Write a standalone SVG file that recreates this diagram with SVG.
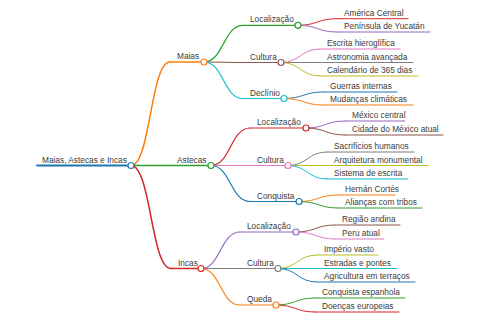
<svg xmlns="http://www.w3.org/2000/svg" width="480" height="320" viewBox="0 0 480 320">
<style>
.t{font-family:"Liberation Sans",Arial,sans-serif;font-size:8.3px;fill:#3b3b3b}
path,line{fill:none;stroke-linecap:round}
circle{fill:#fff;stroke-width:1.2}
.w0{stroke-width:2}.w1{stroke-width:1.5}.w2{stroke-width:1.2}.w3{stroke-width:1}
.c0{stroke:#1f77b4}.c1{stroke:#ff7f0e}.c2{stroke:#2ca02c}.c3{stroke:#d62728}.c4{stroke:#9467bd}
.c5{stroke:#8c564b}.c6{stroke:#e377c2}.c7{stroke:#7f7f7f}.c8{stroke:#bcbd22}.c9{stroke:#17becf}
</style>
<rect width="480" height="320" fill="#fff"/>
<g id="connectors">
<path class="w1 c1" d="M131,165.5C150.5,165.5 150.5,62 170,62"/>
<path class="w1 c2" d="M131,165.5L170,165.5"/>
<path class="w1 c3" d="M131,165.5C151,165.5 151,268.5 171,268.5"/>
<path class="w2 c2" d="M204,62C223.5,62 223.5,25.3 243,25.3"/>
<path class="w2 c5" d="M204,62C223.5,62 223.5,62.5 243,62.5"/>
<path class="w2 c9" d="M204,62C223.5,62 223.5,98.5 243,98.5"/>
<path class="w3 c3" d="M298,25.3C317.5,25.3 317.5,18.7 337,18.7"/>
<path class="w3 c4" d="M298,25.3C317.5,25.3 317.5,32 337,32"/>
<path class="w3 c6" d="M281,62.5C300.5,62.5 300.5,49 320,49"/>
<path class="w3 c7" d="M281,62.5L320,62.5"/>
<path class="w3 c8" d="M281,62.5C300.5,62.5 300.5,76 320,76"/>
<path class="w3 c0" d="M284,98.5C303.5,98.5 303.5,92 323,92"/>
<path class="w3 c1" d="M284,98.5C303.5,98.5 303.5,105 323,105"/>
<path class="w2 c3" d="M211,165.5C230.5,165.5 230.5,128 250,128"/>
<path class="w2 c6" d="M211,165.5L250,165.5"/>
<path class="w2 c0" d="M211,165.5C230.5,165.5 230.5,201.5 250,201.5"/>
<path class="w3 c4" d="M306,128C325.5,128 325.5,121 345,121"/>
<path class="w3 c5" d="M306,128C325.5,128 325.5,135 345,135"/>
<path class="w3 c7" d="M288,165.5C307.5,165.5 307.5,152 327,152"/>
<path class="w3 c8" d="M288,165.5L327,165.5"/>
<path class="w3 c9" d="M288,165.5C307.5,165.5 307.5,179 327,179"/>
<path class="w3 c1" d="M299,201.5C318.5,201.5 318.5,195 338,195"/>
<path class="w3 c2" d="M299,201.5C318.5,201.5 318.5,208 338,208"/>
<path class="w2 c4" d="M201,268.5C220.5,268.5 220.5,232 240,232"/>
<path class="w2 c7" d="M201,268.5L240,268.5"/>
<path class="w2 c1" d="M201,268.5C220.5,268.5 220.5,305 240,305"/>
<path class="w3 c5" d="M296,232C315.5,232 315.5,225 335,225"/>
<path class="w3 c6" d="M296,232C315.5,232 315.5,239 335,239"/>
<path class="w3 c8" d="M278,268.5C297.5,268.5 297.5,255 317,255"/>
<path class="w3 c9" d="M278,268.5L317,268.5"/>
<path class="w3 c0" d="M278,268.5C297.5,268.5 297.5,282 317,282"/>
<path class="w3 c2" d="M276,305C295.5,305 295.5,298 315,298"/>
<path class="w3 c3" d="M276,305C295.5,305 295.5,312 315,312"/>
</g>
<g id="root"><line class="w0 c0" x1="37" y1="165.5" x2="131" y2="165.5"/><circle class="c0" cx="131" cy="165.5" r="3"/><text class="t" x="42" y="162.5">Maias, Astecas e Incas</text></g>
<g id="maias"><line class="w1 c1" x1="170" y1="62" x2="204" y2="62"/><circle class="c1" cx="204" cy="62" r="3"/><text class="t" x="177" y="59">Maias</text></g>
<g id="astecas"><line class="w1 c2" x1="170" y1="165.5" x2="211" y2="165.5"/><circle class="c2" cx="211" cy="165.5" r="3"/><text class="t" x="177" y="162.5">Astecas</text></g>
<g id="incas"><line class="w1 c3" x1="171" y1="268.5" x2="201" y2="268.5"/><circle class="c3" cx="201" cy="268.5" r="3"/><text class="t" x="178" y="265.5">Incas</text></g>
<g id="maias-localizacao"><line class="w2 c2" x1="243" y1="25.3" x2="298" y2="25.3"/><circle class="c2" cx="298" cy="25.3" r="3"/><text class="t" x="250" y="22.3">Localização</text></g>
<g id="maias-cultura"><line class="w2 c5" x1="243" y1="62.5" x2="281" y2="62.5"/><circle class="c5" cx="281" cy="62.5" r="3"/><text class="t" x="250" y="59.5">Cultura</text></g>
<g id="maias-declinio"><line class="w2 c9" x1="243" y1="98.5" x2="284" y2="98.5"/><circle class="c9" cx="284" cy="98.5" r="3"/><text class="t" x="250" y="95.5">Declínio</text></g>
<g id="america-central"><line class="w3 c3" x1="337" y1="18.7" x2="408" y2="18.7"/><text class="t" x="344" y="15.7">América Central</text></g>
<g id="peninsula-yucatan"><line class="w3 c4" x1="337" y1="32" x2="430" y2="32"/><text class="t" x="344" y="29">Península de Yucatán</text></g>
<g id="escrita-hieroglifica"><line class="w3 c6" x1="320" y1="49" x2="400" y2="49"/><text class="t" x="327" y="46">Escrita hieroglífica</text></g>
<g id="astronomia"><line class="w3 c7" x1="320" y1="62.5" x2="413" y2="62.5"/><text class="t" x="327" y="59.5">Astronomia avançada</text></g>
<g id="calendario"><line class="w3 c8" x1="320" y1="76" x2="418" y2="76"/><text class="t" x="327" y="73">Calendário de 365 dias</text></g>
<g id="guerras"><line class="w3 c0" x1="323" y1="92" x2="397" y2="92"/><text class="t" x="330" y="89">Guerras internas</text></g>
<g id="mudancas"><line class="w3 c1" x1="323" y1="105" x2="413" y2="105"/><text class="t" x="330" y="102">Mudanças climáticas</text></g>
<g id="astecas-localizacao"><line class="w2 c3" x1="250" y1="128" x2="306" y2="128"/><circle class="c3" cx="306" cy="128" r="3"/><text class="t" x="257" y="125">Localização</text></g>
<g id="astecas-cultura"><line class="w2 c6" x1="250" y1="165.5" x2="288" y2="165.5"/><circle class="c6" cx="288" cy="165.5" r="3"/><text class="t" x="257" y="162.5">Cultura</text></g>
<g id="astecas-conquista"><line class="w2 c0" x1="250" y1="201.5" x2="299" y2="201.5"/><circle class="c0" cx="299" cy="201.5" r="3"/><text class="t" x="257" y="198.5">Conquista</text></g>
<g id="mexico-central"><line class="w3 c4" x1="345" y1="121" x2="405" y2="121"/><text class="t" x="352" y="118">México central</text></g>
<g id="cidade-mexico"><line class="w3 c5" x1="345" y1="135" x2="443" y2="135"/><text class="t" x="352" y="132">Cidade do México atual</text></g>
<g id="sacrificios"><line class="w3 c7" x1="327" y1="152" x2="414" y2="152"/><text class="t" x="334" y="149">Sacrifícios humanos</text></g>
<g id="arquitetura"><line class="w3 c8" x1="327" y1="165.5" x2="428" y2="165.5"/><text class="t" x="334" y="162.5">Arquitetura monumental</text></g>
<g id="sistema-escrita"><line class="w3 c9" x1="327" y1="179" x2="408" y2="179"/><text class="t" x="334" y="176">Sistema de escrita</text></g>
<g id="hernan-cortes"><line class="w3 c1" x1="338" y1="195" x2="395" y2="195"/><text class="t" x="345" y="192">Hernán Cortés</text></g>
<g id="aliancas"><line class="w3 c2" x1="338" y1="208" x2="422" y2="208"/><text class="t" x="345" y="205">Alianças com tribos</text></g>
<g id="incas-localizacao"><line class="w2 c4" x1="240" y1="232" x2="296" y2="232"/><circle class="c4" cx="296" cy="232" r="3"/><text class="t" x="247" y="229">Localização</text></g>
<g id="incas-cultura"><line class="w2 c7" x1="240" y1="268.5" x2="278" y2="268.5"/><circle class="c7" cx="278" cy="268.5" r="3"/><text class="t" x="247" y="265.5">Cultura</text></g>
<g id="incas-queda"><line class="w2 c1" x1="240" y1="305" x2="276" y2="305"/><circle class="c1" cx="276" cy="305" r="3"/><text class="t" x="247" y="302">Queda</text></g>
<g id="regiao-andina"><line class="w3 c5" x1="335" y1="225" x2="400" y2="225"/><text class="t" x="342" y="222">Região andina</text></g>
<g id="peru-atual"><line class="w3 c6" x1="335" y1="239" x2="384" y2="239"/><text class="t" x="342" y="236">Peru atual</text></g>
<g id="imperio-vasto"><line class="w3 c8" x1="317" y1="255" x2="378" y2="255"/><text class="t" x="324" y="252">Império vasto</text></g>
<g id="estradas"><line class="w3 c9" x1="317" y1="268.5" x2="397" y2="268.5"/><text class="t" x="324" y="265.5">Estradas e pontes</text></g>
<g id="agricultura"><line class="w3 c0" x1="317" y1="282" x2="415" y2="282"/><text class="t" x="324" y="279">Agricultura em terraços</text></g>
<g id="conquista-espanhola"><line class="w3 c2" x1="315" y1="298" x2="405" y2="298"/><text class="t" x="322" y="295">Conquista espanhola</text></g>
<g id="doencas"><line class="w3 c3" x1="315" y1="312" x2="399" y2="312"/><text class="t" x="322" y="309">Doenças europeias</text></g>
</svg>
